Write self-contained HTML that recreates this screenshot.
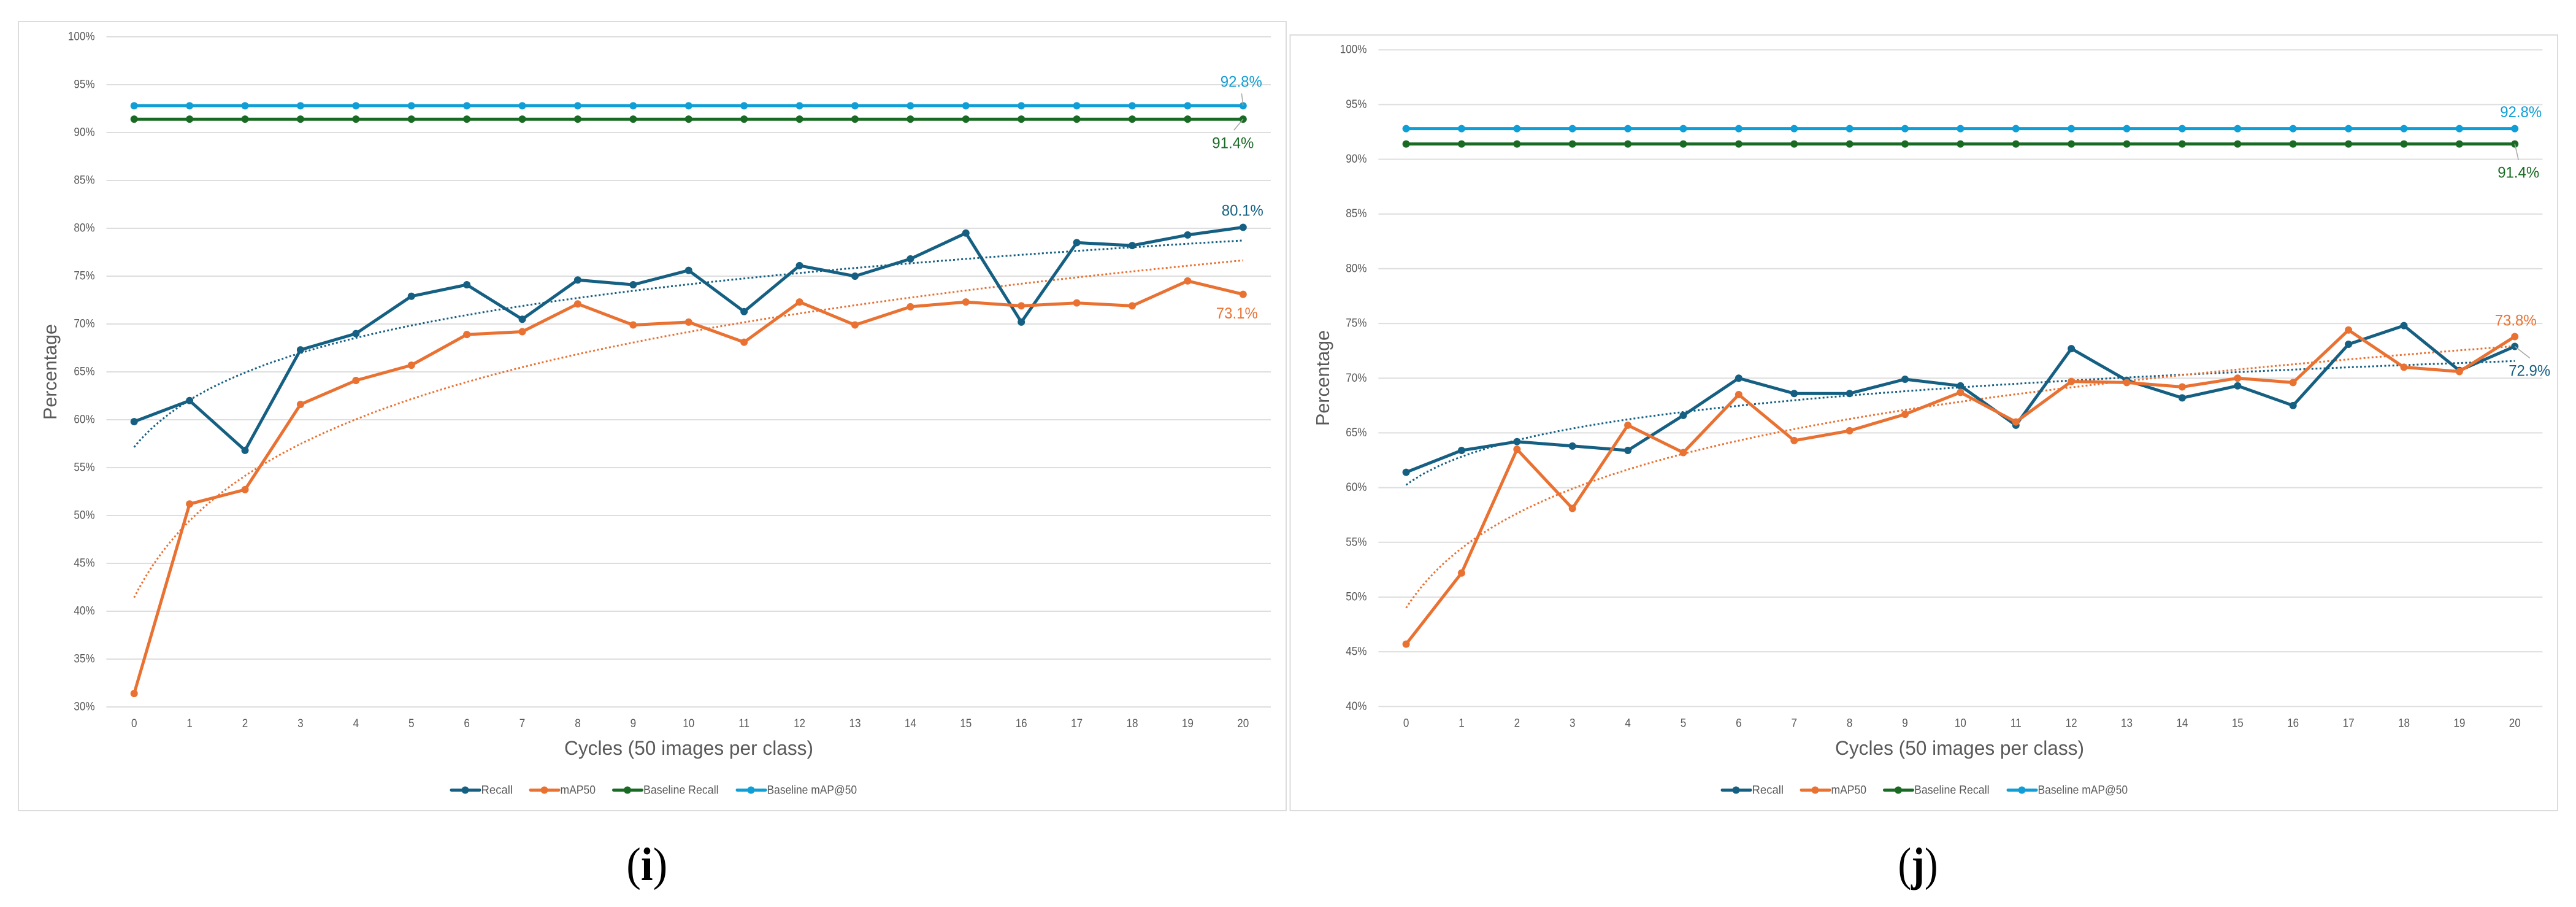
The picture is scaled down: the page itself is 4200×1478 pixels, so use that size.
<!DOCTYPE html>
<html lang="en">
<head>
<meta charset="utf-8">
<title>Recall and mAP50 across cycles</title>
<style>
html,body{margin:0;padding:0;background:#fff;width:4200px;height:1478px;overflow:hidden}
svg{display:block}
text{font-family:"Liberation Sans",sans-serif}
</style>
</head>
<body>
<svg id="figure" xmlns="http://www.w3.org/2000/svg" width="4200" height="1478" viewBox="0 0 4200 1478">
<rect x="0" y="0" width="4200" height="1478" fill="#ffffff"></rect>
<text x="1054.7" y="1434" text-anchor="middle" font-size="76" textLength="67" lengthAdjust="spacingAndGlyphs" style="font-family:'Liberation Serif',serif" fill="#000">(<tspan font-weight="bold">i</tspan>)</text>
<text x="3127" y="1434" text-anchor="middle" font-size="76" textLength="65" lengthAdjust="spacingAndGlyphs" style="font-family:'Liberation Serif',serif" fill="#000">(<tspan font-weight="bold">j</tspan>)</text>
</svg>
<script>
// ---- chart data ----
const categories = [0,1,2,3,4,5,6,7,8,9,10,11,12,13,14,15,16,17,18,19,20];

const recallI = [59.8,62.0,56.8,67.3,69.0,72.9,74.1,70.5,74.6,74.1,75.6,71.3,76.1,75.0,76.8,79.5,70.2,78.5,78.2,79.3,80.1];
const mapI = [31.4,51.2,52.7,61.6,64.1,65.7,68.9,69.2,72.1,69.9,70.2,68.1,72.3,69.9,71.8,72.3,71.9,72.2,71.9,74.5,73.1];
const baselineRecallI = [91.4,91.4,91.4,91.4,91.4,91.4,91.4,91.4,91.4,91.4,91.4,91.4,91.4,91.4,91.4,91.4,91.4,91.4,91.4,91.4,91.4];
const baselineMapI = [92.8,92.8,92.8,92.8,92.8,92.8,92.8,92.8,92.8,92.8,92.8,92.8,92.8,92.8,92.8,92.8,92.8,92.8,92.8,92.8,92.8];
const yTicksI = [30,35,40,45,50,55,60,65,70,75,80,85,90,95,100];

const recallJ = [61.4,63.4,64.2,63.8,63.4,66.6,70.0,68.6,68.6,69.9,69.3,65.7,72.7,69.8,68.2,69.3,67.5,73.1,74.8,70.7,72.9];
const mapJ = [45.7,52.2,63.5,58.1,65.7,63.2,68.5,64.3,65.2,66.7,68.7,66.0,69.7,69.6,69.2,70.0,69.6,74.4,71.0,70.6,73.8];
const baselineRecallJ = [91.4,91.4,91.4,91.4,91.4,91.4,91.4,91.4,91.4,91.4,91.4,91.4,91.4,91.4,91.4,91.4,91.4,91.4,91.4,91.4,91.4];
const baselineMapJ = [92.8,92.8,92.8,92.8,92.8,92.8,92.8,92.8,92.8,92.8,92.8,92.8,92.8,92.8,92.8,92.8,92.8,92.8,92.8,92.8,92.8];
const yTicksJ = [40,45,50,55,60,65,70,75,80,85,90,95,100];

const seriesNames = ['Recall','mAP50','Baseline Recall','Baseline mAP@50'];
const xAxisTitle = 'Cycles (50 images per class)';
const yAxisTitle = 'Percentage';

// ---- drawing ----
const NS = 'http://www.w3.org/2000/svg';
const svg = document.getElementById('figure');
const COLORS = ['#156082','#E97132','#196B24','#0F9ED5'];
const TEXT = '#595959';
const GRID = '#dedede';

function make(parent, tag, attrs, txt){
  const el = document.createElementNS(NS, tag);
  for (const k in attrs) el.setAttribute(k, attrs[k]);
  if (txt !== undefined) el.textContent = txt;
  parent.appendChild(el);
  return el;
}

// Logarithmic least-squares trendline, derived from the series (x = category position 1..n)
function logFit(values){
  const n = values.length;
  let sx=0, sy=0, sxx=0, sxy=0;
  values.forEach(function(v,i){
    const lx = Math.log(i+1);
    sx+=lx; sy+=v; sxx+=lx*lx; sxy+=lx*v;
  });
  const a = (n*sxy - sx*sy)/(n*sxx - sx*sx);
  const b = (sy - a*sx)/n;
  return function(i){ return a*Math.log(i+1)+b; };
}

function drawChart(c){
  const g = make(svg,'g',{});
  
  

  const frame = make(g,'rect',{x:c.frame[0],y:c.frame[1],width:c.frame[2]-c.frame[0],height:c.frame[3]-c.frame[1],fill:'#fff',stroke:'#dcdcdc','stroke-width':2});
  
  

  const yMin = c.ticks[0], yMax = c.ticks[c.ticks.length-1];
  const band = (c.right-c.left)/categories.length;
  const X = function(i){ return c.left + band*(i+0.5); };
  const Y = function(v){ return c.bottom - (v-yMin)/(yMax-yMin)*(c.bottom-c.top); };

  // gridlines and y ticks
  c.ticks.forEach(function(t){
    const line = make(g,'line',{x1:c.left,x2:c.right,y1:Y(t),y2:Y(t),stroke:GRID,'stroke-width':2});
    
    
    const label = make(g,'text',{transform:'translate('+(c.left-19)+','+(Y(t)+5.5)+') scale(0.875,1)','text-anchor':'end','font-size':19.5,fill:TEXT}, t+'%');
    
    
  });

  // x ticks
  categories.forEach(function(cat,i){
    const label = make(g,'text',{transform:'translate('+X(i)+','+(c.bottom+33)+') scale(0.875,1)','text-anchor':'middle','font-size':19.5,fill:TEXT}, cat);
    
    
  });

  // axis titles
  const xt = make(g,'text',{x:c.xTitleX,y:1230,'font-size':32,fill:TEXT,textLength:406,lengthAdjust:'spacingAndGlyphs'}, xAxisTitle);
  
  
  const yt = make(g,'text',{transform:'translate('+c.yTitle[0]+','+c.yTitle[1]+') rotate(-90)','text-anchor':'middle','font-size':30.5,fill:TEXT}, yAxisTitle);
  
  

  // trendlines (fitted to the two measured series)
  [0,1].forEach(function(s){
    const fit = logFit(c.series[s]);
    let d = '';
    for (let k=0;k<=240;k++){
      const t = k/240*(categories.length-1);
      d += (k?'L':'M') + X(t).toFixed(1) + ' ' + Y(fit(t)).toFixed(1);
    }
    const tr = make(g,'path',{d:d,fill:'none',stroke:COLORS[s],'stroke-width':3,'stroke-dasharray':'3 3.6'});
    
    
  });

  // series
  c.series.forEach(function(vals,s){
    const sg = make(g,'g',{});
    
    
    const pts = vals.map(function(v,i){ return X(i).toFixed(1)+','+Y(v).toFixed(1); }).join(' ');
    const pl = make(sg,'polyline',{points:pts,fill:'none',stroke:COLORS[s],'stroke-width':5,'stroke-linejoin':'round','stroke-linecap':'round'});
    
    
    vals.forEach(function(v,i){
      const m = make(sg,'circle',{cx:X(i),cy:Y(v),r:6,fill:COLORS[s]});
      
      
    });
  });

  // end-of-series value labels, positioned relative to the last point
  c.labels.forEach(function(l){
    const vals = c.series[l.s];
    const last = vals.length-1;
    const px = X(last), py = Y(vals[last]);
    if (l.lead){
      const ln = make(g,'line',{x1:px,y1:py,x2:px+l.lead[0],y2:py+l.lead[1],stroke:'#a6a6a6','stroke-width':1.5});
      
      
    }
    const t = make(g,'text',{x:px+l.dx-34,y:py+l.dy,'font-size':25,fill:COLORS[l.s],textLength:68,lengthAdjust:'spacingAndGlyphs'}, vals[last].toFixed(1)+'%');
    
    
  });

  // legend
  const lg = make(g,'g',{transform:'translate('+c.legendDx+',0)'});
  
  
  const starts = [735,864,999.5,1201];
  const widths = [51.5,57.5,122.6,146.6];
  seriesNames.forEach(function(name,s){
    const x0 = starts[s];
    const e = make(lg,'g',{});
    
    
    make(e,'line',{x1:x0+1,x2:x0+47,y1:1287.5,y2:1287.5,stroke:COLORS[s],'stroke-width':5,'stroke-linecap':'round'});
    make(e,'circle',{cx:x0+23.5,cy:1287.5,r:6,fill:COLORS[s]});
    make(e,'text',{x:x0+49.5,y:1293.5,'font-size':19.5,fill:TEXT,textLength:widths[s],lengthAdjust:'spacingAndGlyphs'}, name);
  });
}

drawChart({
  id:'i',
  frame:[30,35,2097,1321],
  left:173.5, right:2072, top:60, bottom:1152,
  ticks:yTicksI,
  series:[recallI,mapI,baselineRecallI,baselineMapI],
  xTitleX:920, yTitle:[92,606], legendDx:0,
  labels:[
    {s:3,dx:-3,dy:-30.7,lead:[-2.4,-20]},
    {s:2,dx:-16.5,dy:47.4,lead:[-15,18]},
    {s:0,dx:-1,dy:-18.8},
    {s:1,dx:-10,dy:39.4}
  ]
});

drawChart({
  id:'j',
  frame:[2103.5,57,4170,1321],
  left:2247.4, right:4145.4, top:81.2, bottom:1151.3,
  ticks:yTicksJ,
  series:[recallJ,mapJ,baselineRecallJ,baselineMapJ],
  xTitleX:2992, yTitle:[2167,616], legendDx:2072,
  labels:[
    {s:3,dx:10,dy:-18.6},
    {s:2,dx:6,dy:54.7,lead:[6,26]},
    {s:1,dx:1.5,dy:-18},
    {s:0,dx:24,dy:48,lead:[24.5,19]}
  ]
});
</script>
</body>
</html>
